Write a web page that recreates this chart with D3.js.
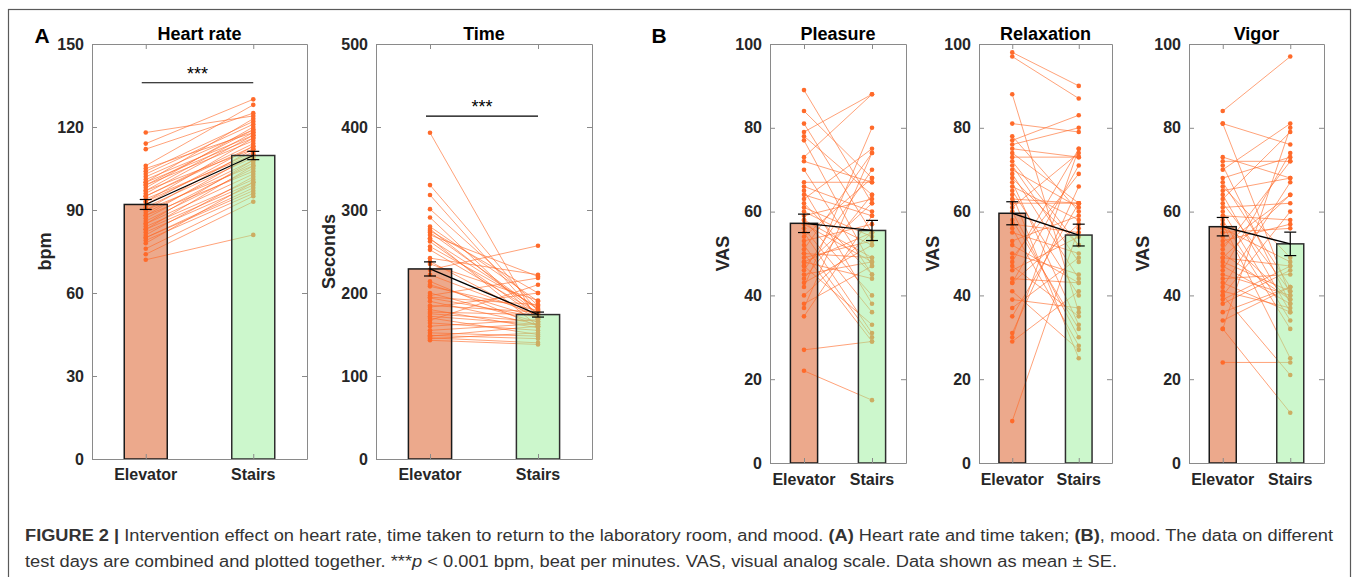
<!DOCTYPE html>
<html>
<head>
<meta charset="utf-8">
<script src="https://cdn.jsdelivr.net/npm/d3@7"></script>
<style>
  body { margin: 0; background: #fff; }
  svg { font-family: "Liberation Sans", Arial, sans-serif; }
</style>
</head>
<body>
<div id="chart"></div>
<script>
// Figure 2: elevator vs stairs, heart rate / time / mood

const width = 1357;
const height = 577;

const categories = ["Elevator", "Stairs"];

// per-subject values (pairs by index)
const hrElevator = [118,114,112,106,105,104,103,102,101,100,100,99,98,97,97,96,95,94,93,93,92,91,90,90,89,88,88,87,86,85,85,84,83,83,82,81,80,80,79,78,76,74,72,95,99];
const hrStairs   = [124,130,125,128,118,122,121,119,117,123,116,115,120,118,112,117,114,110,116,111,113,109,112,106,108,110,104,107,105,103,108,101,100,106,99,102,97,98,96,100,95,93,81,113,119];

const timeElevator = [393,330,318,301,291,280,277,273,270,266,262,256,252,242,238,228,222,214,208,200,197,194,190,183,180,177,175,170,167,164,160,155,152,149,146,143,145,148,185,195,210,235,265,275,172];
const timeStairs   = [165,178,172,185,168,190,175,180,220,160,170,183,176,222,169,257,173,160,179,165,218,171,162,200,158,174,166,150,210,155,168,163,148,145,140,138,152,160,177,186,170,191,181,200,162];

const pleasureElevator = [89,84,81,79,78,77,73,72,67,66,64,63,62,60,59,58,57,56,55,53,52,51,50,49,48,47,47,46,45,44,43,42,40,38,37,35,27,22,65,70,61,54,50,48,58];
const pleasureStairs   = [62,68,55,88,64,47,88,67,67,60,59,75,45,52,63,40,48,36,31,57,30,74,49,53,44,62,33,70,48,64,52,80,55,47,74,59,29,15,38,45,54,68,29,55,49];

const relaxElevator = [98,97,88,81,77,76,75,74,73,72,71,70,69,67,66,65,64,63,62,61,60,57,56,55,53,52,49,48,47,44,43,43,41,39,37,31,30,29,10,78,68,58,46,35,50];
const relaxStairs   = [90,87,36,79,83,80,73,62,73,52,48,61,44,33,58,40,25,62,62,74,30,55,28,50,59,43,69,75,35,43,71,57,27,37,49,66,75,41,56,60,52,32,54,62,45];

const vigorElevator = [84,81,81,73,72,71,70,68,67,66,65,64,63,62,61,59,57,56,55,51,50,49,49,46,45,42,41,40,40,38,34,32,32,24,60,53,47,44,58,48,54,43,52,39,36];
const vigorStairs   = [97,40,76,68,72,38,81,73,42,49,68,36,79,41,62,58,25,48,56,72,39,47,64,74,40,67,37,60,21,46,42,12,80,24,34,57,38,45,32,41,39,36,64,47,42];

// group means and standard errors
const hrMean = [92, 109.7],      hrSE = [1.8, 1.5];
const timeMean = [229, 174],     timeSE = [8.5, 3];
const pleasureMean = [57.2, 55.5], pleasureSE = [2.2, 2.4];
const relaxMean = [59.6, 54.4],  relaxSE = [2.75, 2.6];
const vigorMean = [56.4, 52.3],  vigorSE = [2.2, 2.8];

// axis ticks
const hrTicks = [0, 30, 60, 90, 120, 150];
const timeTicks = [0, 100, 200, 300, 400, 500];
const vasTicks = [0, 20, 40, 60, 80, 100];

// significance bars: [level]
const hrSig = [136];
const timeSig = [413];

const panels = [
  {title: "Heart rate", ylab: "bpm", ticks: hrTicks, a: hrElevator, b: hrStairs, mean: hrMean, se: hrSE, sig: hrSig,
   x0: 92, x1: 307, top: 44, bottom: 459, labX: 45, xlabY: 480},
  {title: "Time", ylab: "Seconds", ticks: timeTicks, a: timeElevator, b: timeStairs, mean: timeMean, se: timeSE, sig: timeSig,
   x0: 376, x1: 592, top: 44, bottom: 459, labX: 329, xlabY: 480},
  {title: "Pleasure", ylab: "VAS", ticks: vasTicks, a: pleasureElevator, b: pleasureStairs, mean: pleasureMean, se: pleasureSE,
   x0: 770, x1: 906, top: 44, bottom: 463, labX: 723, xlabY: 485},
  {title: "Relaxation", ylab: "VAS", ticks: vasTicks, a: relaxElevator, b: relaxStairs, mean: relaxMean, se: relaxSE,
   x0: 979, x1: 1112, top: 44, bottom: 463, labX: 933, xlabY: 485},
  {title: "Vigor", ylab: "VAS", ticks: vasTicks, a: vigorElevator, b: vigorStairs, mean: vigorMean, se: vigorSE,
   x0: 1189, x1: 1324, top: 44, bottom: 463, labX: 1143, xlabY: 485}
];

const svg = d3.select("#chart")
  .append("svg")
  .attr("width", width)
  .attr("height", height);

// outer frame of the figure
svg.append("rect")
  .attr("x", 8.5).attr("y", 9.5)
  .attr("width", 1342).attr("height", 600)
  .attr("fill", "none")
  .attr("stroke", "#5a5a5a")
  .attr("stroke-width", 1.2);

const dotColor = "#ff6a2a";
const barW = 0.4;

function drawPanel(p) {
  const g = svg.append("g");
  const x = d3.scaleLinear().domain([0.5, 2.5]).range([p.x0, p.x1]);
  const y = d3.scaleLinear().domain([p.ticks[0], p.ticks[p.ticks.length - 1]]).range([p.bottom, p.top]);

  const bar = (i, fill) => g.append("rect")
    .attr("x", x(i + 1 - barW / 2))
    .attr("y", y(p.mean[i]))
    .attr("width", x(1 + barW) - x(1))
    .attr("height", y(0) - y(p.mean[i]))
    .attr("fill", fill)
    .attr("fill-opacity", 0.5);

  // elevator bar under the subject lines
  bar(0, "#d95319");

  // subject lines and dots
  const pairs = p.a.map((v, i) => [v, p.b[i]]);
  g.selectAll(".subj")
    .data(pairs)
    .enter()
    .append("line")
      .attr("class", "subj")
      .attr("x1", x(1)).attr("x2", x(2))
      .attr("y1", d => y(d[0])).attr("y2", d => y(d[1]))
      .attr("stroke", dotColor)
      .attr("stroke-opacity", 0.7)
      .attr("stroke-width", 0.9);
  [p.a, p.b].forEach((vals, i) => {
    g.selectAll(".dot" + i)
      .data(vals)
      .enter()
      .append("circle")
        .attr("cx", x(i + 1))
        .attr("cy", d => y(d))
        .attr("r", 2.3)
        .attr("fill", dotColor);
  });

  // stairs bar drawn over, semi transparent
  bar(1, "#99f099");

  // bar outlines
  [0, 1].forEach(i => {
    g.append("rect")
      .attr("x", x(i + 1 - barW / 2))
      .attr("y", y(p.mean[i]))
      .attr("width", x(1 + barW) - x(1))
      .attr("height", y(0) - y(p.mean[i]))
      .attr("fill", "none")
      .attr("stroke", i == 0 ? "#1a1a1a" : "#2e2e2e")
      .attr("stroke-width", 1.5);
  });

  // mean line + error bars
  g.append("path")
    .attr("d", d3.line()(p.mean.map((m, i) => [x(i + 1), y(m)])))
    .attr("fill", "none")
    .attr("stroke", "#000")
    .attr("stroke-width", 1.3);
  p.mean.forEach((m, i) => {
    const cx = x(i + 1);
    const eb = g.append("g").attr("stroke", "#000").attr("stroke-width", 1.2);
    eb.append("line").attr("x1", cx).attr("x2", cx).attr("y1", y(m - p.se[i])).attr("y2", y(m + p.se[i]));
    [m - p.se[i], m + p.se[i]].forEach(v => {
      eb.append("line").attr("x1", cx - 6).attr("x2", cx + 6).attr("y1", y(v)).attr("y2", y(v));
    });
  });

  // significance
  if (p.sig) {
    g.append("line")
      .attr("x1", x(1) - 4).attr("x2", x(2))
      .attr("y1", y(p.sig[0])).attr("y2", y(p.sig[0]))
      .attr("stroke", "#000").attr("stroke-width", 1.2);
    g.append("text")
      .attr("x", (x(1) + x(2)) / 2 - 2)
      .attr("y", y(p.sig[0]) - 3)
      .attr("text-anchor", "middle")
      .attr("font-size", "18px")
      .text("***");
  }

  // axes box with inward ticks
  const axisCol = "#8a8a8a";
  const left = g.append("g")
    .attr("transform", `translate(${p.x0},0)`)
    .call(d3.axisLeft(y).tickValues(p.ticks).tickSize(-5).tickSizeOuter(0).tickPadding(8));
  const right = g.append("g")
    .attr("transform", `translate(${p.x1},0)`)
    .call(d3.axisRight(y).tickValues(p.ticks).tickSize(-5).tickSizeOuter(0).tickFormat(""));
  const bottom = g.append("g")
    .attr("transform", `translate(0,${p.bottom})`)
    .call(d3.axisBottom(x).tickValues([1, 2]).tickSize(-5).tickSizeOuter(0).tickFormat(""));
  const topAx = g.append("g")
    .attr("transform", `translate(0,${p.top})`)
    .call(d3.axisTop(x).tickValues([1, 2]).tickSize(-5).tickSizeOuter(0).tickFormat(""));
  [left, right, bottom, topAx].forEach(a => {
    a.selectAll("path, line").attr("stroke", axisCol);
  });
  left.selectAll("text")
    .attr("font-size", "16px")
    .attr("font-weight", "bold")
    .attr("fill", "#262626")
    .attr("font-family", "'Liberation Sans', Arial, sans-serif");

  // category labels
  categories.forEach((c, i) => {
    g.append("text")
      .attr("x", x(i + 1))
      .attr("y", p.xlabY)
      .attr("text-anchor", "middle")
      .attr("font-size", "16px")
      .attr("font-weight", "bold")
      .attr("fill", "#262626")
      .text(c);
  });

  // title
  g.append("text")
    .attr("x", (p.x0 + p.x1) / 2)
    .attr("y", 40)
    .attr("text-anchor", "middle")
    .attr("font-size", "18px")
    .attr("font-weight", "bold")
    .text(p.title);

  // y label
  g.append("text")
    .attr("transform", `translate(${p.labX + 6},${(p.top + p.bottom) / 2}) rotate(-90)`)
    .attr("text-anchor", "middle")
    .attr("font-size", "18px")
    .attr("font-weight", "bold")
    .attr("fill", "#262626")
    .text(p.ylab);
}

panels.forEach(drawPanel);

// panel letters
[["A", 42], ["B", 659]].forEach(([t, px]) => {
  svg.append("text")
    .attr("x", px).attr("y", 43)
    .attr("text-anchor", "middle")
    .attr("font-size", "21px")
    .attr("font-weight", "bold")
    .text(t);
});

// caption
const cap1 = svg.append("text")
  .attr("x", 25).attr("y", 541)
  .attr("font-size", "16px")
  .attr("font-family", "'Liberation Sans Narrow', 'Liberation Sans', Arial, sans-serif")
  .attr("fill", "#333")
  .attr("textLength", 1308)
  .attr("lengthAdjust", "spacingAndGlyphs");
cap1.append("tspan").attr("font-weight", "bold").text("FIGURE 2 | ");
cap1.append("tspan").text("Intervention effect on heart rate, time taken to return to the laboratory room, and mood. ");
cap1.append("tspan").attr("font-weight", "bold").text("(A)");
cap1.append("tspan").text(" Heart rate and time taken; ");
cap1.append("tspan").attr("font-weight", "bold").text("(B)");
cap1.append("tspan").text(", mood. The data on different");

const cap2 = svg.append("text")
  .attr("x", 25).attr("y", 567)
  .attr("font-size", "16px")
  .attr("font-family", "'Liberation Sans Narrow', 'Liberation Sans', Arial, sans-serif")
  .attr("fill", "#333")
  .attr("textLength", 1092)
  .attr("lengthAdjust", "spacingAndGlyphs");
cap2.append("tspan").text("test days are combined and plotted together. ***");
cap2.append("tspan").attr("font-style", "italic").text("p");
cap2.append("tspan").text(" < 0.001 bpm, beat per minutes. VAS, visual analog scale. Data shown as mean ± SE.");
</script>
</body>
</html>
